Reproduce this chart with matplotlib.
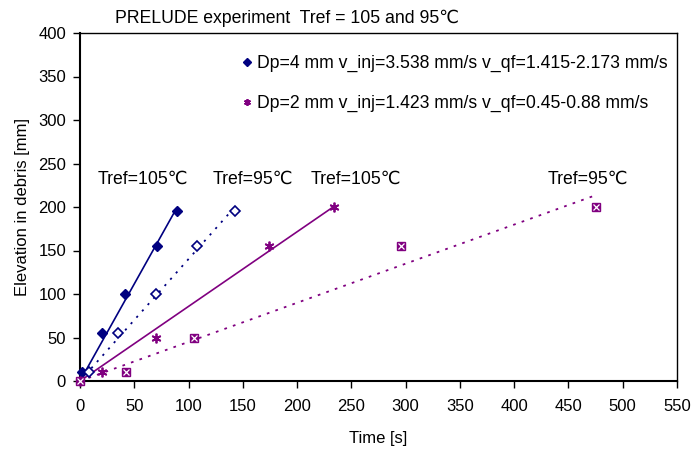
import numpy as np
import matplotlib
matplotlib.use("Agg")
import matplotlib.pyplot as plt

plt.rcParams['font.family'] = ['Liberation Sans', 'DejaVu Sans']

# Data
t4_105 = [2, 20, 41, 71, 89]
z4_105 = [10, 55, 100, 155, 195]
t4_95 = [8.6, 35, 70, 107.5, 143]
z4_95 = [10, 55, 100, 155, 195]
t2_105 = [0, 20, 70, 174, 234]
z2_105 = [0, 10, 50, 155, 200]
t2_95 = [0, 42, 105, 296, 475]
z2_95 = [0, 10, 50, 155, 200]

label4 = "Dp=4 mm v_inj=3.538 mm/s v_qf=1.415-2.173 mm/s"
label2 = "Dp=2 mm v_inj=1.423 mm/s v_qf=0.45-0.88 mm/s"
title = "PRELUDE experiment  Tref = 105 and 95\u2103"
annots = ["Tref=105\u2103", "Tref=95\u2103", "Tref=105\u2103", "Tref=95\u2103"]
annot_x = [16.6, 122.5, 212.8, 431]
annot_y = [232, 232, 232, 232]

xticks = list(range(0, 551, 50))
yticks = list(range(0, 401, 50))

navy = '#000080'
purple = '#800080'
FS = 12
FS2 = 12.7

fig = plt.figure(figsize=(6.93, 4.49), dpi=100)
ax = fig.add_axes([80/693, 1-381/449, 597/693, 348/449])


def fit_origin(x, y):
    x = np.asarray(x, float); y = np.asarray(y, float)
    k = np.sum(x*y) / np.sum(x*x)
    xs = np.array([0.0, x.max()])
    return xs, k*xs

# trend lines
xs, ys = fit_origin(t4_105, z4_105)
ax.plot(xs, ys, color=navy, lw=1.2, zorder=2)
xs, ys = fit_origin(t4_95, z4_95)
ax.plot(xs, ys, color=navy, lw=1.3, ls=(0, (1.2, 3.5)), zorder=2)
xs, ys = fit_origin(t2_105, z2_105)
ax.plot(xs, ys, color=purple, lw=1.2, zorder=2)
xs, ys = fit_origin(t2_95, z2_95)
ax.plot(xs, ys, color=purple, lw=1.3, ls=(0, (1.5, 3.5)), zorder=2)

# markers
ax.plot(t4_105, z4_105, ls='none', marker='D', ms=5.5, color=navy, mec=navy, zorder=3, clip_on=False, label=label4)
ax.plot(t4_95, z4_95, ls='none', marker='D', ms=5.5, mfc='white', mec=navy, mew=1.2, zorder=3, clip_on=False)
ax.plot(t2_105, z2_105, ls='none', marker=(6, 2, 0), ms=7, color=purple, mew=1.3, zorder=3, clip_on=False, label=label2)
ax.plot(t2_95, z2_95, ls='none', marker='s', ms=6, color=purple, mec=purple, zorder=3, clip_on=False)
ax.plot(t2_95, z2_95, ls='none', marker='x', ms=3.8, color='white', mew=0.9, zorder=4, clip_on=False)

ax.set_xlim(0, 550)
ax.set_ylim(0, 400)
ax.set_xticks(xticks)
ax.set_yticks(yticks)
ax.tick_params(direction='out', length=5, width=1, labelsize=FS)
ax.tick_params(axis='x', pad=8)
ax.tick_params(axis='y', pad=5)
for s in ax.spines.values():
    s.set_linewidth(1.0)
ax.spines['bottom'].set_linewidth(1.5)
ax.spines['left'].set_linewidth(1.5)

ax.set_xlabel("Time [s]", fontsize=FS, labelpad=12.5)
ax.set_ylabel("Elevation in debris [mm]", fontsize=FS, labelpad=6)

for s, x, y in zip(annots, annot_x, annot_y):
    ax.text(x, y, s, fontsize=FS2, ha='left', va='center')

fig.text(287/693, 1-18/449, title, fontsize=FS2, ha='center', va='center')

leg = ax.legend(loc='upper left', bbox_to_anchor=(241/693, 1-55/449),
                bbox_transform=fig.transFigure, frameon=False,
                fontsize=FS2, handlelength=0.7, handletextpad=0.2,
                labelspacing=1.3, borderaxespad=0, borderpad=0, markerscale=0.7)

fig.savefig("out.png", dpi=100)
